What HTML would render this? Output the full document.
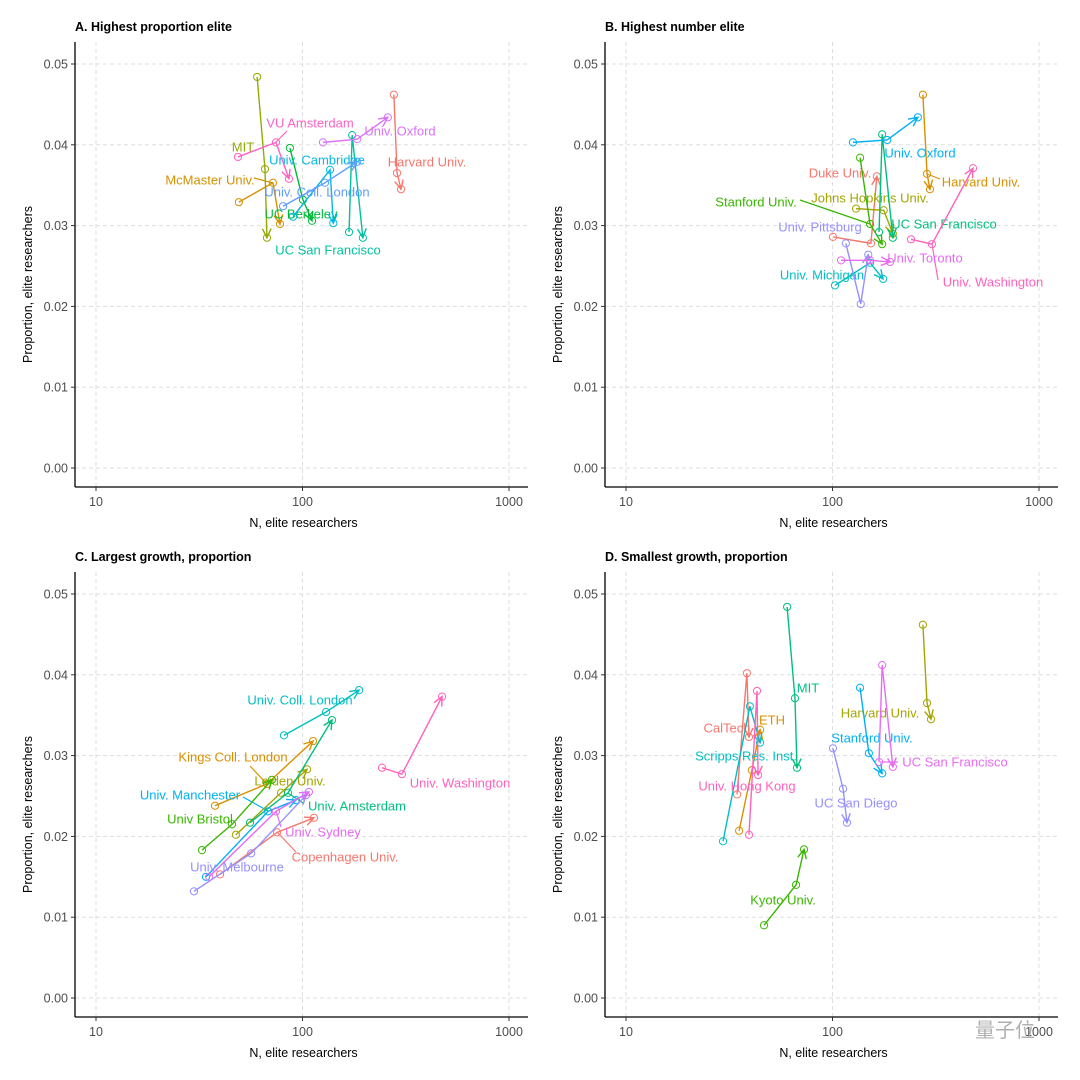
<!DOCTYPE html>
<html><head><meta charset="utf-8">
<style>
html,body{margin:0;padding:0;background:#fff;}
svg{display:block;font-family:"Liberation Sans",Arial,sans-serif;}
</style></head>
<body>
<svg id="fig" width="1080" height="1080" viewBox="0 0 1080 1080" xmlns="http://www.w3.org/2000/svg"></svg>
<script>
// ---------- DATA ----------
const yTicks = [0, 0.01, 0.02, 0.03, 0.04, 0.05];
const yTickLabels = ["0.00","0.01","0.02","0.03","0.04","0.05"];
const xTicks = [10, 100, 1000];
const xTickLabels = ["10","100","1000"];
const panelTitles = ["A. Highest proportion elite","B. Highest number elite","C. Largest growth, proportion","D. Smallest growth, proportion"];

const aNames = ["Harvard Univ.","McMaster Univ.","MIT","UC Berkeley","UC San Francisco","Univ. Cambridge","Univ. Coll. London","Univ. Oxford","VU Amsterdam"];
const aN = [[277,287,300],[49.2,71.9,77.8],[60.3,65.8,67.3],[86.9,100.5,111.2],[168,174,196],[89.9,136,141],[80.5,128.5,184],[125.6,184,259],[48.7,74.4,86]];
const aP = [[0.0462,0.0365,0.0345],[0.0329,0.0353,0.0302],[0.0484,0.0370,0.0285],[0.0396,0.0332,0.0306],[0.0292,0.0412,0.0285],[0.0311,0.0369,0.0303],[0.0324,0.0353,0.0379],[0.0403,0.0407,0.0434],[0.0385,0.0403,0.0358]];

const bNames = ["Duke Univ.","Harvard Univ.","Johns Hopkins Univ.","Stanford Univ.","UC San Francisco","Univ. Michigan","Univ. Oxford","Univ. Pittsburg","Univ. Toronto","Univ. Washington"];
const bN = [[100.5,153.5,164],[274,287,296.5],[130,177,196],[136,152,174],[168,174,196],[102.8,152,175.8],[125.6,184,259],[116,137,149],[110,152,190],[240,303,479]];
const bP = [[0.0286,0.0278,0.0361],[0.0462,0.0364,0.0345],[0.0321,0.0319,0.0290],[0.0384,0.0302,0.0277],[0.0292,0.0413,0.0285],[0.0226,0.0254,0.0234],[0.0403,0.0406,0.0434],[0.0278,0.0203,0.0264],[0.0257,0.0257,0.0255],[0.0283,0.0277,0.0371]];

const cNames = ["Copenhagen Univ.","Kings Coll. London","Leiden Univ.","Univ Bristol","Univ. Amsterdam","Univ. Coll. London","Univ. Manchester","Univ. Melbourne","Univ. Sydney","Univ. Washington"];
const cN = [[39.9,75.3,113.7],[37.7,67.3,112.5],[47.6,78.7,105.2],[32.6,45.6,71.1],[55.7,85.1,139],[81.3,130,188],[34.1,68.1,93],[29.8,56.4,104],[35.3,74.4,107.4],[242.7,303,474]];
const cP = [[0.0153,0.0205,0.0223],[0.0238,0.0265,0.0318],[0.0202,0.0254,0.0283],[0.0183,0.0215,0.0270],[0.0217,0.0254,0.0344],[0.0325,0.0354,0.0381],[0.0150,0.0231,0.0245],[0.0132,0.0179,0.0251],[0.0150,0.0231,0.0255],[0.0285,0.0277,0.0373]];

const dNames = ["CalTech","ETH","Harvard Univ.","Kyoto Univ.","MIT","Scripps Res. Inst.","Stanford Univ.","UC San Diego","UC San Francisco","Univ. Hong Kong"];
const dN = [[34.5,38.5,39.4],[35.3,40.7,44.6],[274,287,300],[46.6,66.6,72.8],[60.3,65.8,67.3],[29.5,39.8,44.6],[136,150,174],[100.5,112.5,117.5],[168,174,196],[39.4,43.1,43.6]];
const dP = [[0.0252,0.0402,0.0323],[0.0207,0.0282,0.0332],[0.0462,0.0365,0.0345],[0.0090,0.0140,0.0184],[0.0484,0.0371,0.0285],[0.0194,0.0361,0.0316],[0.0384,0.0303,0.0278],[0.0309,0.0259,0.0217],[0.0292,0.0412,0.0286],[0.0202,0.0380,0.0276]];

// ---------- LAYOUT (not data) ----------
const pal9 = ["#F8766D","#D39200","#93AA00","#00BA38","#00C19F","#00B9E3","#619CFF","#DB72FB","#FF61C3"];
const pal10 = ["#F8766D","#D89000","#A3A500","#39B600","#00BF7D","#00BFC4","#00B0F6","#9590FF","#E76BF3","#FF62BC"];
const layout = [
  {left:75,right:528,top:42,bottom:487,x10:96,y0:468,names:aNames,N:aN,P:aP,pal:pal9,
   labels:[[427,162],[210,180],[243,147],[301,214],[328,250],[317,160],[317,192],[400,131],[310,123]],
   leaders:[[1,254,178,273,183],[8,287,131,276,142]]},
  {left:605,right:1058,top:42,bottom:487,x10:626,y0:468,names:bNames,N:bN,P:bP,pal:pal10,
   labels:[[840,173],[981,182],[870,198],[756,202],[944,224],[822,275],[920,153],[820,227],[925,258],[993,282]],
   leaders:[[3,800,200,870,224],[9,938,280,932,244],[1,940,179,927,174]]},
  {left:75,right:528,top:572,bottom:1017,x10:96,y0:998,names:cNames,N:cN,P:cP,pal:pal10,
   labels:[[345,857],[233,757],[290,781],[200,819],[357,806],[300,700],[190,795],[237,867],[323,832],[460,783]],
   leaders:[[1,250,766,267,784],[6,243,797,268,811],[0,296,852,277,832],[8,281,827,276,811],[4,303,803,288,793]]},
  {left:605,right:1058,top:572,bottom:1017,x10:626,y0:998,names:dNames,N:dN,P:dP,pal:pal10,
   labels:[[727,728],[772,720],[880,713],[783,900],[808,688],[746,756],[872,738],[856,803],[955,762],[747,786]],
   leaders:[[8,880,762,898,762]]}
];
const DEC = 206.5, PPU = 8080;
const NS = "http://www.w3.org/2000/svg";
const svg = document.getElementById('fig');
function mk(tag, attrs, parent){
  const e = document.createElementNS(NS, tag);
  for (const k in attrs) e.setAttribute(k, attrs[k]);
  (parent||svg).appendChild(e);
  return e;
}
function slug(s){return s.toLowerCase().replace(/[^a-z0-9]+/g,'-').replace(/^-|-$/g,'');}

layout.forEach((L, pi) => {
  const xs = v => L.x10 + (Math.log10(v) - 1) * DEC;
  const ys = v => L.y0 - v * PPU;
  const g = mk('g', {});
  
  
  xTicks.forEach(t => {
    const l = mk('line', {x1:xs(t), x2:xs(t), y1:L.top, y2:L.bottom, stroke:'#dedede', 'stroke-width':1, 'stroke-dasharray':'4,3'}, g);
    
    
  });
  yTicks.forEach(t => {
    const l = mk('line', {x1:L.left, x2:L.right, y1:ys(t), y2:ys(t), stroke:'#dedede', 'stroke-width':1, 'stroke-dasharray':'4,3'}, g);
    
    
  });
  const ya = mk('line', {x1:L.left, x2:L.left, y1:L.top, y2:L.bottom, stroke:'#000', 'stroke-width':1.3}, g);
  
  
  const xa = mk('line', {x1:L.left, x2:L.right, y1:L.bottom, y2:L.bottom, stroke:'#000', 'stroke-width':1.3}, g);
  
  
  yTicks.forEach((t, i) => {
    mk('line', {x1:L.left-4, x2:L.left, y1:ys(t), y2:ys(t), stroke:'#333', 'stroke-width':1}, g);
    const tx = mk('text', {x:L.left-7, y:ys(t)+4.5, 'text-anchor':'end', 'font-size':12.5, fill:'#4d4d4d'}, g);
    tx.textContent = yTickLabels[i];
    
    
  });
  xTicks.forEach((t, i) => {
    mk('line', {x1:xs(t), x2:xs(t), y1:L.bottom, y2:L.bottom+4, stroke:'#333', 'stroke-width':1}, g);
    const tx = mk('text', {x:xs(t), y:L.bottom+19, 'text-anchor':'middle', 'font-size':12.5, fill:'#4d4d4d'}, g);
    tx.textContent = xTickLabels[i];
    
    
  });
  const tt = mk('text', {x:L.left, y:L.top-11, 'font-size':12.5, 'font-weight':'bold', fill:'#000'}, g);
  tt.textContent = panelTitles[pi];
  
  
  const xt = mk('text', {x:(L.left+L.right)/2+2, y:L.bottom+40, 'text-anchor':'middle', 'font-size':12.5, fill:'#000'}, g);
  xt.textContent = 'N, elite researchers';
  
  
  const cy = (L.top+L.bottom)/2 + 20;
  const yt = mk('text', {x:0, y:0, transform:`translate(${L.left-43},${cy}) rotate(-90)`, 'text-anchor':'middle', 'font-size':12.5, fill:'#000'}, g);
  yt.textContent = 'Proportion, elite researchers';
  
  
  L.leaders.forEach(ld => {
    const s = mk('line', {x1:ld[1], y1:ld[2], x2:ld[3], y2:ld[4], stroke:L.pal[ld[0]], 'stroke-width':1.2}, g);
    
    
  });
  L.names.forEach((nm, si) => {
    const col = L.pal[si];
    const sg = mk('g', {}, g);
    
    
    const pts = L.N[si].map((n, k) => [xs(n), ys(L.P[si][k])]);
    const pl = mk('polyline', {points: pts.map(p => p.join(',')).join(' '), fill:'none', stroke:col, 'stroke-width':1.4}, sg);
    
    
    pts.forEach(p => {
      const c = mk('circle', {cx:p[0], cy:p[1], r:3.6, fill:'none', stroke:col, 'stroke-width':1}, sg);
      
      
    });
    const a = pts[pts.length-2], b = pts[pts.length-1];
    const ang = Math.atan2(b[1]-a[1], b[0]-a[0]);
    const hl = 10, sp = 0.45;
    const p1 = [b[0]-hl*Math.cos(ang-sp), b[1]-hl*Math.sin(ang-sp)];
    const p2 = [b[0]-hl*Math.cos(ang+sp), b[1]-hl*Math.sin(ang+sp)];
    const ah = mk('polyline', {points:`${p1.join(',')} ${b.join(',')} ${p2.join(',')}`, fill:'none', stroke:col, 'stroke-width':1.4}, sg);
    
    
    const lp = L.labels[si];
    const lt = mk('text', {x:lp[0], y:lp[1]+4.5, 'text-anchor':'middle', 'font-size':13, fill:col}, sg);
    lt.textContent = nm;
    
    
  });
});
const wm = mk('text', {x:1005, y:1037, 'text-anchor':'middle', 'font-size':20, fill:'#b0b0b0', 'font-family':'"Liberation Sans","Noto Sans CJK SC",sans-serif'});
wm.textContent = '量子位';


</script>
</body></html>
